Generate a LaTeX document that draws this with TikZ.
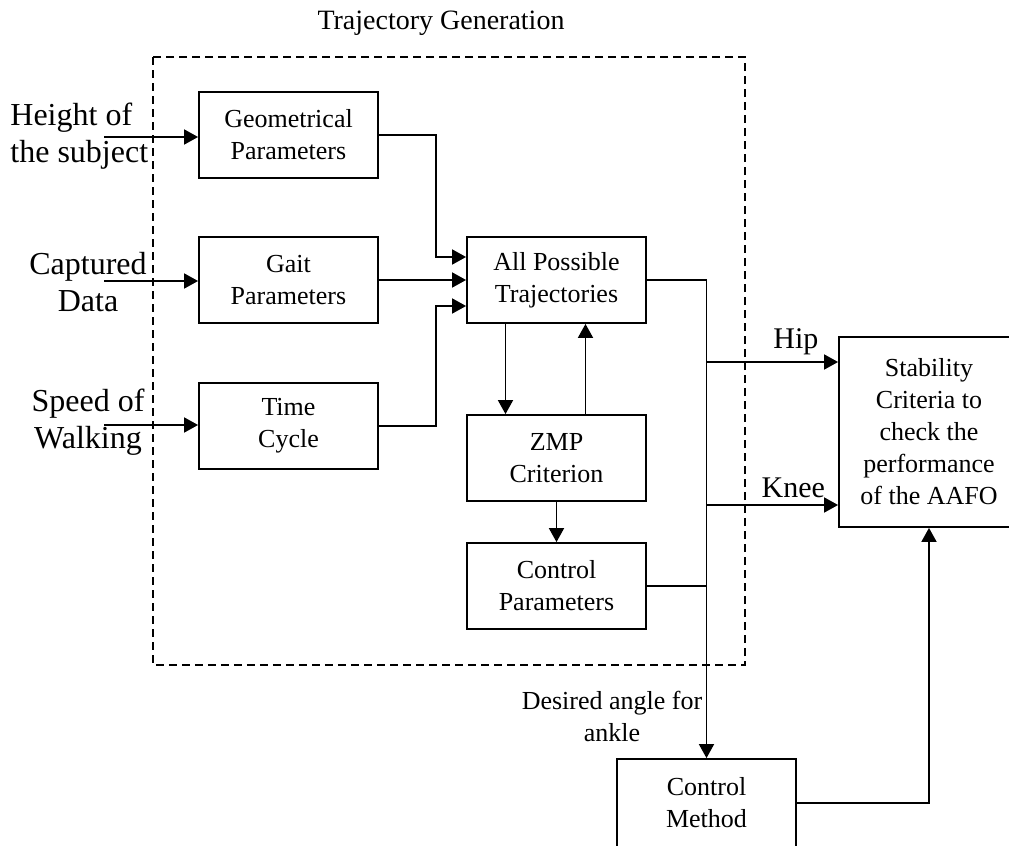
\documentclass[tikz,border=0pt]{standalone}
\usepackage{fontspec}
\setmainfont{Liberation Serif}
\usetikzlibrary{arrows.meta,calc}
\begin{document}
\begin{tikzpicture}[x=0.5pt,y=-0.5pt,
	blk/.style={draw,line width=0.9pt,minimum width=89.5pt,minimum height=43pt,align=center,inner sep=0pt,font=\fontsize{13}{16}\selectfont},
	arr/.style={line width=0.9pt,-{Triangle[length=7pt,width=7.5pt]}},
	ln/.style={line width=0.9pt},
	inlbl/.style={align=center,font=\fontsize{16}{18.5}\selectfont},
	sig/.style={font=\fontsize{15}{17}\selectfont}]
	\useasboundingbox (0,0) rectangle (1009,846);
	\node[font=\fontsize{14}{16}\selectfont] (title) at (441,23) {Trajectory Generation};
	\draw [line width=0.9pt,dash pattern=on 4pt off 2.5pt] (153,57) rectangle (745,665);
	\node[blk] (geom) at (288.5,135) {Geometrical\\Parameters};
	\node[blk] (gait) at (288.5,280) {Gait\\Parameters};
	\node[blk] (time) at (288.5,426) {Time\\Cycle};
	\node[blk] (apt) at (556.5,280) {All Possible\\Trajectories};
	\node[blk] (zmp) at (556.5,458) {ZMP\\Criterion};
	\node[blk] (cpar) at (556.5,586) {Control\\Parameters};
	\node[blk,minimum width=90pt,minimum height=95pt] (stab) at (929,432) {Stability\\Criteria to\\check the\\performance\\of the AAFO};
	\node[blk,minimum height=44pt] (cmeth) at (706.5,803) {Control\\Method};
	\node[inlbl,align=left,anchor=west,inner sep=0pt] (hgt) at (10,136.5) {Height of\\the subject};
	\node[inlbl] (cap) at (88,282) {Captured\\Data};
	\node[inlbl] (spd) at (88,422) {Speed of\\Walking};
	\node[align=center,font=\fontsize{13}{16}\selectfont] (des) at (612,716) {Desired angle for\\ankle};
	\coordinate (inH) at (104,137);
	\coordinate (inC) at (104,281);
	\coordinate (inS) at (104,425);
	\coordinate (hipJ) at (706.5,362);
	\coordinate (kneeJ) at (706.5,505);
	\draw [arr] (inH) -- (inH -| geom.west);
	\draw [arr] (inC) -- (inC -| gait.west);
	\draw [arr] (inS) -- (inS -| time.west);
	\draw [arr] (geom.east) -- ++(57,0) |- ($(apt.west)+(0,-23)$);
	\draw [arr] (gait.east) -- (apt.west);
	\draw [arr] (time.east) -- ++(57,0) |- ($(apt.west)+(0,26)$);
	\draw [arr] ($(apt.south)+(-51,0)$) -- ($(zmp.north)+(-51,0)$);
	\draw [arr] ($(zmp.north)+(29,0)$) -- ($(apt.south)+(29,0)$);
	\draw [arr] (zmp.south) -- (cpar.north);
	\draw [arr] (apt.east) -| (cmeth.north);
	\draw [ln] (cpar.east) -- (cpar.east -| cmeth.north);
	\draw [arr] (hipJ) -- (hipJ -| stab.west) node[sig,pos=0.68,above] {Hip};
	\draw [arr] (kneeJ) -- (kneeJ -| stab.west) node[sig,pos=0.66,above] {Knee};
	\draw [arr] (cmeth.east) -| (stab.south);
\end{tikzpicture}
\end{document}
